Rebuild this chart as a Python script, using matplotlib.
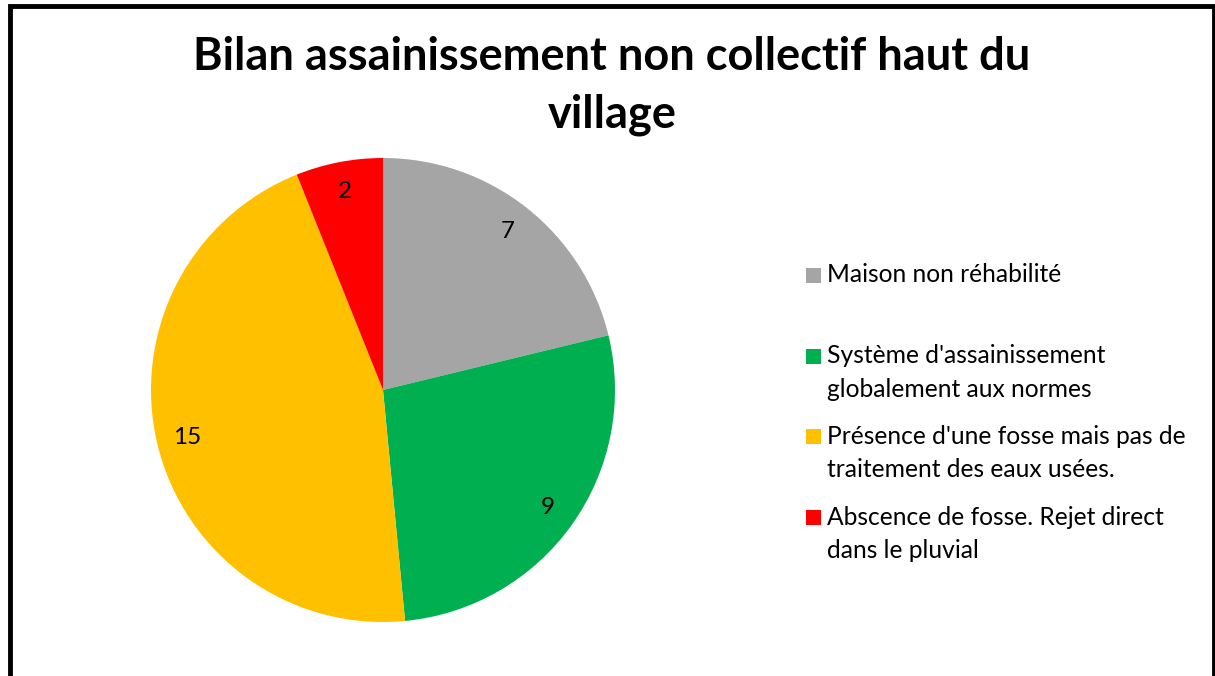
import matplotlib.pyplot as plt
from matplotlib.patches import Rectangle

categories = ["Maison non réhabilité",
              "Système d'assainissement\nglobalement aux normes",
              "Présence d'une fosse mais pas de\ntraitement des eaux usées.",
              "Abscence de fosse. Rejet direct\ndans le pluvial"]
values = [7, 9, 15, 2]
colors = ['#A5A5A5', '#00B050', '#FFC000', '#FF0000']
title = "Bilan assainissement non collectif haut du\nvillage"

W, H = 1215, 676
fig = plt.figure(figsize=(W / 100, H / 100), dpi=100)
plt.rcParams['font.family'] = ['Lato', 'DejaVu Sans']

# pie
ax = fig.add_axes([151 / W, (H - 622) / H, 464 / W, 464 / H])
total = sum(values)
ax.pie(values, colors=colors, startangle=90, counterclock=False,
       autopct=lambda p: '%d' % round(p * total / 100), pctdistance=0.87,
       textprops={'fontsize': 17.5, 'color': 'black'},
       wedgeprops={'linewidth': 0})
ax.set_xlim(-1, 1)
ax.set_ylim(-1, 1)
ax.set_aspect('equal')

fig.text(612 / W, 1 - 86 / H, title, ha='center', va='center',
         fontsize=32.5, fontweight='bold', linespacing=1.45)

# legend drawn by hand so that the first line of each entry lines up
for i, (lab, col) in enumerate(zip(categories, colors)):
    yc = 275.5 + i * 80.7
    fig.patches.append(Rectangle((806 / W, 1 - (yc + 7.5) / H), 15 / W, 15 / H,
                                 facecolor=col, edgecolor='none',
                                 transform=fig.transFigure))
    fig.text(827 / W, 1 - (yc - 12) / H, lab, ha='left', va='top',
             fontsize=17.7, linespacing=1.55)

# outer frame
fig.patches.append(Rectangle((9.5 / W, -20 / H), 1204 / W, (H - 6 + 20) / H,
                             fill=False, edgecolor='black', linewidth=3.5,
                             transform=fig.transFigure))

fig.savefig('out.png', dpi=100)
